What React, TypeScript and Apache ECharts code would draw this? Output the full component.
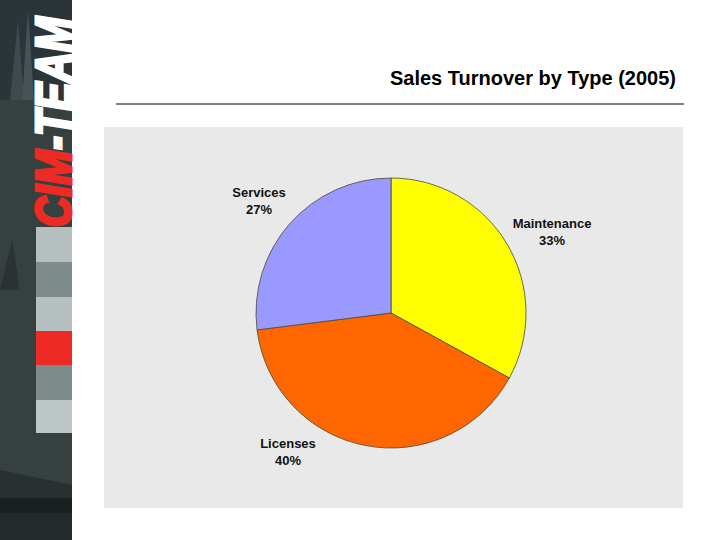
import React, { useEffect, useRef } from "react";
import * as echarts from "echarts";

const categories = ["Maintenance", "Licenses", "Services"];
const values = [33, 40, 27];
const colors = ["#ffff00", "#ff6600", "#9999ff"];
const titleText = "Sales Turnover by Type (2005)";

// label anchor positions (layout only)
const labelPos: [number, number][] = [
  [552, 232],
  [288, 452],
  [259, 201],
];

export default function App() {
  const ref = useRef<HTMLDivElement>(null);
  useEffect(() => {
    document.body.style.margin = "0";
    if (!ref.current) return;
    const chart = echarts.init(ref.current, null, { renderer: "svg" });
    const sideBlocks = [
      { y: 227, h: 35, c: "#b5bfbf" },
      { y: 262, h: 35, c: "#7d8b8b" },
      { y: 297, h: 34, c: "#b5bfbf" },
      { y: 331, h: 34, c: "#ee2a24" },
      { y: 365, h: 35, c: "#7d8b8b" },
      { y: 400, h: 33, c: "#bcc6c6" },
    ];
    const logoFont = "italic bold 50px 'Liberation Sans', Arial, sans-serif";
    chart.setOption({
      animation: false,
      backgroundColor: "#ffffff",
      graphic: [
        { type: "rect", shape: { x: 0, y: 0, width: 72, height: 540 }, style: { fill: "#36413f" }, z: 0 },
        { type: "rect", shape: { x: 0, y: 0, width: 72, height: 100 }, style: { fill: "#2b3436" }, z: 0 },
        { type: "polygon", shape: { points: [[10, 100], [18, 20], [24, 100]] }, style: { fill: "#3f4a4c" }, z: 0 },
        { type: "polygon", shape: { points: [[22, 100], [28, 10], [34, 100]] }, style: { fill: "#465254" }, z: 0 },
        { type: "polygon", shape: { points: [[0, 290], [12, 240], [20, 290]] }, style: { fill: "#2a3234" }, z: 0 },
        { type: "polygon", shape: { points: [[0, 470], [72, 485], [72, 498], [0, 498]] }, style: { fill: "#283031" }, z: 0 },
        { type: "rect", shape: { x: 0, y: 498, width: 72, height: 15 }, style: { fill: "#1a1f20" }, z: 0 },
        { type: "rect", shape: { x: 0, y: 513, width: 72, height: 27 }, style: { fill: "#242a2c" }, z: 0 },
        ...sideBlocks.map((b) => ({
          type: "rect",
          shape: { x: 36, y: b.y, width: 36, height: b.h },
          style: { fill: b.c },
          z: 1,
        })),
        {
          type: "text",
          x: 79,
          y: 227,
          rotation: Math.PI / 2,
          scaleX: 0.84,
          z: 2,
          style: {
            text: "{r|CIM}{w|-TEAM}",
            x: 0,
            y: 0,
            textAlign: "left",
            textVerticalAlign: "bottom",
            rich: {
              r: { fill: "#ee2a24", stroke: "#ee2a24", lineWidth: 3, font: logoFont },
              w: { fill: "#ffffff", stroke: "#ffffff", lineWidth: 3, font: logoFont },
            },
          },
        },
        {
          type: "rect",
          shape: { x: 104, y: 127, width: 579, height: 381 },
          style: { fill: "#e9e9e9" },
          z: 0,
        },
        {
          type: "text",
          x: 676,
          y: 78,
          style: {
            text: titleText,
            textAlign: "right",
            textVerticalAlign: "middle",
            fill: "#000",
            font: "bold 20px 'Liberation Sans', Arial, sans-serif",
          },
        },
        {
          type: "line",
          shape: { x1: 116, y1: 104, x2: 684, y2: 104 },
          style: { stroke: "#000", lineWidth: 1 },
        },
      ],
      series: [
        {
          type: "pie",
          center: [391, 313],
          radius: 135,
          startAngle: 90,
          clockwise: true,
          percentPrecision: 0,
          z: 3,
          itemStyle: { borderColor: "#4a4a30", borderWidth: 0.8 },
          label: {
            show: true,
            position: "outside",
            formatter: "{b}\n{d}%",
            fontFamily: "'Liberation Sans', Arial, sans-serif",
            fontWeight: "bold",
            fontSize: 13,
            lineHeight: 17,
            color: "#111",
            align: "center",
          },
          labelLine: { show: false },
          labelLayout: (p: any) => ({
            x: labelPos[p.dataIndex][0],
            y: labelPos[p.dataIndex][1],
            align: "center",
            verticalAlign: "middle",
          }),
          emphasis: { disabled: true },
          data: categories.map((name, i) => ({
            name,
            value: values[i],
            itemStyle: { color: colors[i] },
          })),
        },
      ],
    });
    return () => chart.dispose();
  }, []);
  return <div ref={ref} style={{ width: 720, height: 540 }} />;
}
